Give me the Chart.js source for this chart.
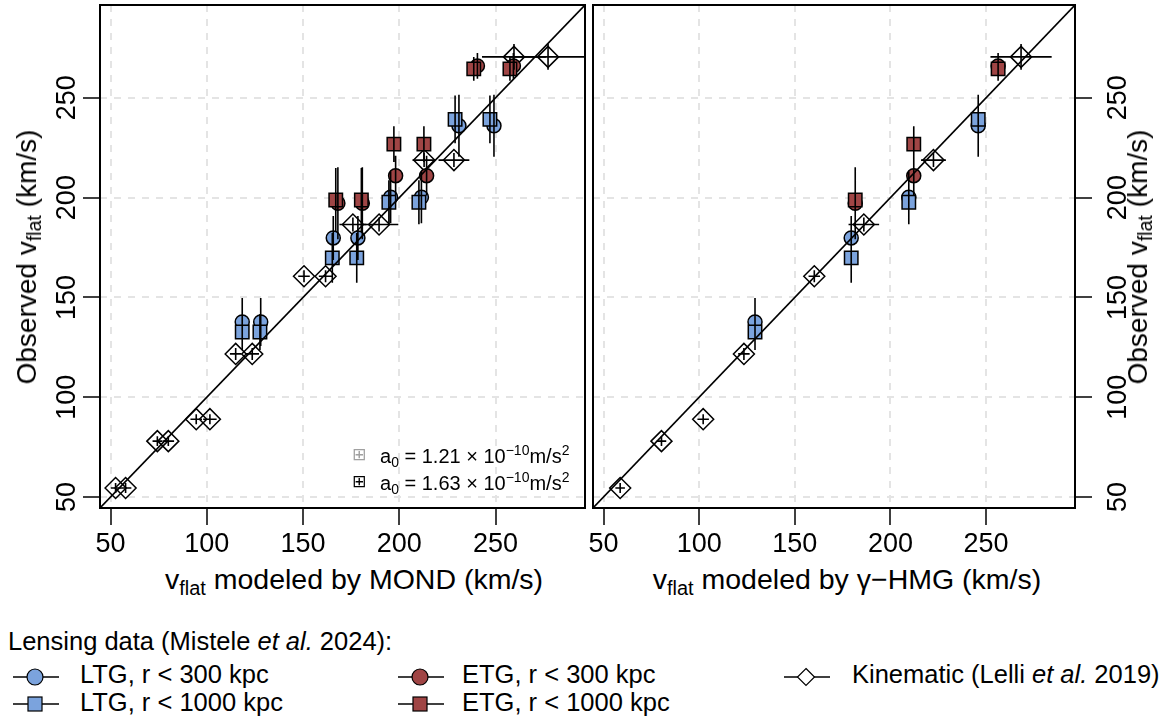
<!DOCTYPE html>
<html lang="en">
<head>
  <meta charset="UTF-8">
  <title>Observed vs modeled v_flat</title>
  <script src="https://cdn.jsdelivr.net/npm/chart.js"></script>
  <style>
    body { margin: 0; background: #fff; }
    #wrap { position: relative; width: 1166px; height: 721px; overflow: hidden;
            font-family: 'Liberation Sans', Arial, sans-serif; color: #000; }
    canvas { position: absolute; top: 0; }
    .xtitle { position: absolute; width: 600px; text-align: center; font-size: 28.5px; line-height: 28px; white-space: nowrap; }
    .ytitle { position: absolute; font-size: 28px; line-height: 28px; white-space: nowrap;
              transform: translate(-50%, -50%) rotate(-90deg); }
    sub { font-size: 70%; vertical-align: -0.28em; line-height: 0; }
    sup { font-size: 70%; vertical-align: 0.6em; line-height: 0; }
    .leg { position: absolute; font-size: 25.5px; line-height: 25.5px; white-space: nowrap; }
    .a0 { position: absolute; font-size: 20px; line-height: 20px; white-space: nowrap; }
    .sym { font-family: 'DejaVu Sans'; font-size: 17px; line-height: 17px; position: absolute; }
    svg { position: absolute; }
  </style>
</head>
<body>
<div id="wrap">
  <canvas id="mondChart" width="590" height="560" style="left:0"></canvas>
  <canvas id="hmgChart" width="596" height="560" style="left:570px"></canvas>

  <div class="ytitle" style="left:27px; top:257px">Observed v<sub>flat</sub> (km/s)</div>
  <div class="ytitle" style="left:1138px; top:257px">Observed v<sub>flat</sub> (km/s)</div>
  <div class="xtitle" style="left:54px; top:565px">v<sub>flat</sub> modeled by MOND (km/s)</div>
  <div class="xtitle" style="left:547px; top:565px">v<sub>flat</sub> modeled by γ−HMG (km/s)</div>

  <span class="sym" style="left:352px; top:446px; color:#a0a0a0">⊞</span>
  <div class="a0" style="left:380px; top:446px">a<sub>0</sub> = 1.21 × 10<sup>−10</sup>m/s<sup>2</sup></div>
  <span class="sym" style="left:352px; top:473px; color:#000">⊞</span>
  <div class="a0" style="left:380px; top:473px">a<sub>0</sub> = 1.63 × 10<sup>−10</sup>m/s<sup>2</sup></div>

  <div class="leg" style="left:8px; top:629px">Lensing data (Mistele <i>et al.</i> 2024):</div>

  <svg style="left:12px; top:666px" width="48" height="22"><line x1="1" y1="11" x2="47" y2="11" stroke="#000" stroke-width="1.3"/><circle cx="23" cy="11" r="8" fill="#7ba3dd" stroke="#000" stroke-width="1.2"/></svg>
  <div class="leg" style="left:80px; top:662px">LTG, r &lt; 300 kpc</div>
  <svg style="left:12px; top:693px" width="48" height="22"><line x1="1" y1="11" x2="47" y2="11" stroke="#000" stroke-width="1.3"/><rect x="16" y="4" width="14" height="14" fill="#7ba3dd" stroke="#000" stroke-width="1.2"/></svg>
  <div class="leg" style="left:80px; top:690px">LTG, r &lt; 1000 kpc</div>

  <svg style="left:397px; top:666px" width="48" height="22"><line x1="1" y1="11" x2="47" y2="11" stroke="#000" stroke-width="1.3"/><circle cx="23" cy="11" r="8" fill="#a04545" stroke="#000" stroke-width="1.2"/></svg>
  <div class="leg" style="left:462px; top:662px">ETG, r &lt; 300 kpc</div>
  <svg style="left:397px; top:693px" width="48" height="22"><line x1="1" y1="11" x2="47" y2="11" stroke="#000" stroke-width="1.3"/><rect x="16" y="4" width="14" height="14" fill="#a04545" stroke="#000" stroke-width="1.2"/></svg>
  <div class="leg" style="left:462px; top:690px">ETG, r &lt; 1000 kpc</div>

  <svg style="left:783px; top:666px" width="48" height="22"><line x1="1" y1="11" x2="47" y2="11" stroke="#000" stroke-width="1.3"/><polygon points="23,2.5 31.5,11 23,19.5 14.5,11" fill="#fff" stroke="#000" stroke-width="1.2"/></svg>
  <div class="leg" style="left:852px; top:662px">Kinematic (Lelli <i>et al.</i> 2019)</div>
</div>

<script>
  const axisMin = 44.5;
  const axisMax = 296.5;
  const tickValues = [50, 100, 150, 200, 250];

  // observed v_flat (km/s) and its errors
  const ltg300Obs = [137.7, 179.8, 200.2, 236.0];
  const ltg300Err = [12, 11, 13, 15.5];
  const ltg1000Obs = [132.7, 169.8, 197.7, 239.2];
  const ltg1000Err = [9, 12.5, 11, 12];
  const etg300Obs = [197.2, 211.0, 266.0];
  const etg300Err = [18, 10, 6.5];
  const etg1000Obs = [198.8, 226.8, 264.5];
  const etg1000Err = [16, 9, 6];
  const kinObs = [54.5, 78.0, 89.0, 121.7, 160.6, 186.5, 218.8, 270.5];
  const kinObsErr = [2.5, 2.5, 2.5, 3, 3, 3.5, 3.5, 6.5];

  // MOND, a0 = 1.21e-10 m/s^2
  const mond121Ltg300 = [118.4, 165.7, 195.5, 231.0];
  const mond121Ltg1000 = [118.4, 165.2, 194.6, 229.0];
  const mond121Etg300 = [168.1, 198.1, 240.6];
  const mond121Etg1000 = [167.0, 197.2, 238.7];
  const mond121Kin = [52.6, 74.3, 94.5, 115.0, 150.5, 175.9, 212.9, 259.6];
  const mond121KinErr = [2.5, 2.5, 3, 3, 3, 7, 6, 16.6];

  // MOND, a0 = 1.63e-10 m/s^2
  const mond163Ltg300 = [128.0, 178.5, 211.5, 249.2];
  const mond163Ltg1000 = [127.6, 177.9, 210.2, 247.1];
  const mond163Etg300 = [180.8, 214.2, 259.3];
  const mond163Etg1000 = [180.3, 212.8, 257.5];
  const mond163Kin = [57.8, 80.0, 101.6, 123.6, 161.7, 189.5, 228.4, 277.3];
  const mond163KinErr = [3, 3, 3.5, 3.5, 3.5, 10, 8, 20];

  // gamma-HMG
  const hmgLtg300 = [129.2, 179.5, 209.6, 245.9];
  const hmgLtg1000 = [129.2, 179.5, 209.6, 245.9];
  const hmgEtg300 = [181.6, 212.2, 256.3];
  const hmgEtg1000 = [181.6, 212.2, 256.3];
  const hmgKin = [58.7, 80.3, 102.1, 123.4, 160.2, 186.1, 222.5, 268.3];
  const hmgKinErr = [2.5, 2.5, 3, 3, 3, 8, 6.5, 16];

  const blue = '#7ba3dd';
  const red = '#a04545';
  const fontFamily = "'Liberation Sans', Arial, sans-serif";

  function pts(xs, ys) {
    return xs.map((x, i) => ({ x: x, y: ys[i] }));
  }

  // vertical error bars, segments split by null points
  function vBars(xs, ys, errs) {
    const d = [];
    xs.forEach((x, i) => {
      d.push({ x: x, y: ys[i] - errs[i] }, { x: x, y: ys[i] + errs[i] }, { x: x, y: null });
    });
    return d;
  }

  function hBars(xs, ys, errs) {
    const d = [];
    xs.forEach((x, i) => {
      d.push({ x: x - errs[i], y: ys[i] }, { x: x + errs[i], y: ys[i] }, { x: x, y: null });
    });
    return d;
  }

  function markerSets(m) {
    const common = { showLine: false, borderColor: '#000', pointBorderWidth: 1.5, pointBorderColor: '#000' };
    return [
      Object.assign({ data: pts(m.kin, kinObs), pointStyle: 'rectRot', pointRadius: 10.5,
        pointBackgroundColor: 'rgba(0,0,0,0)', order: 4 }, common),
      Object.assign({ data: pts(m.ltg300, ltg300Obs), pointStyle: 'circle', pointRadius: 7,
        pointBackgroundColor: blue, order: 3 }, common),
      Object.assign({ data: pts(m.etg300, etg300Obs), pointStyle: 'circle', pointRadius: 7,
        pointBackgroundColor: red, order: 3 }, common),
      Object.assign({ data: pts(m.ltg1000, ltg1000Obs), pointStyle: 'rect', pointRadius: 9.5,
        pointBackgroundColor: blue, order: 2 }, common),
      Object.assign({ data: pts(m.etg1000, etg1000Obs), pointStyle: 'rect', pointRadius: 9.5,
        pointBackgroundColor: red, order: 2 }, common)
    ];
  }

  function barData(m) {
    return [].concat(
      vBars(m.ltg300, ltg300Obs, ltg300Err),
      vBars(m.ltg1000, ltg1000Obs, ltg1000Err),
      vBars(m.etg300, etg300Obs, etg300Err),
      vBars(m.etg1000, etg1000Obs, etg1000Err),
      vBars(m.kin, kinObs, kinObsErr),
      hBars(m.kin, kinObs, m.kinErr)
    );
  }

  function buildDatasets(models) {
    let sets = [{
      data: [{ x: axisMin, y: axisMin }, { x: axisMax, y: axisMax }],
      borderColor: '#000', borderWidth: 1.6, pointRadius: 0, order: 1
    }];
    models.forEach(m => {
      sets.push({ data: barData(m), borderColor: '#000', borderWidth: 1.6, pointRadius: 0,
        spanGaps: false, order: 0 });
      sets = sets.concat(markerSets(m));
    });
    return sets;
  }

  const boxPlugin = {
    id: 'box',
    afterDraw(chart) {
      const a = chart.chartArea;
      const ctx = chart.ctx;
      ctx.save();
      ctx.lineWidth = 2;
      ctx.strokeStyle = '#000';
      ctx.strokeRect(a.left, a.top, a.right - a.left, a.bottom - a.top);
      ctx.restore();
    }
  };

  function axis(position, pad, size) {
    const vertical = position === 'left' || position === 'right';
    return {
      type: 'linear',
      position: position,
      min: axisMin,
      max: axisMax,
      afterBuildTicks: s => { s.ticks = tickValues.map(v => ({ value: v })); },
      afterFit: s => {
        if (vertical) s.width = size; else s.height = size;
        s.paddingTop = 0; s.paddingBottom = 0; s.paddingLeft = 0; s.paddingRight = 0;
      },
      grid: { color: '#e4e4e4', lineWidth: 2, drawTicks: true, tickLength: 17, tickColor: '#000', tickWidth: 1.5 },
      border: { display: false, dash: [7, 7] },
      ticks: {
        font: { family: fontFamily, size: 27 },
        color: '#000',
        padding: pad,
        autoSkip: false,
        minRotation: vertical ? 90 : 0,
        maxRotation: vertical ? 90 : 0,
        crossAlign: vertical ? 'center' : 'near'
      }
    };
  }

  function makeChart(id, models, yPos, yPad, yWidth, padding) {
    return new Chart(document.getElementById(id), {
      type: 'line',
      data: { datasets: buildDatasets(models) },
      options: {
        responsive: false,
        animation: false,
        devicePixelRatio: 1,
        layout: { padding: padding, autoPadding: false },
        plugins: { legend: { display: false }, tooltip: { enabled: false } },
        scales: {
          x: axis('bottom', 3, 52),
          y: axis(yPos, yPad, yWidth)
        }
      },
      plugins: [boxPlugin]
    });
  }

  const mondLow = { ltg300: mond121Ltg300, ltg1000: mond121Ltg1000, etg300: mond121Etg300,
    etg1000: mond121Etg1000, kin: mond121Kin, kinErr: mond121KinErr };
  const mondHigh = { ltg300: mond163Ltg300, ltg1000: mond163Ltg1000, etg300: mond163Etg300,
    etg1000: mond163Etg1000, kin: mond163Kin, kinErr: mond163KinErr };
  const hmg = { ltg300: hmgLtg300, ltg1000: hmgLtg1000, etg300: hmgEtg300,
    etg1000: hmgEtg1000, kin: hmgKin, kinErr: hmgKinErr };

  makeChart('mondChart', [mondLow, mondHigh], 'left', -7, 100, { left: 0, top: 5, right: 5, bottom: 0 });
  makeChart('hmgChart', [hmg], 'right', 4, 91, { left: 23, top: 5, right: 0, bottom: 0 });
</script>
</body>
</html>
